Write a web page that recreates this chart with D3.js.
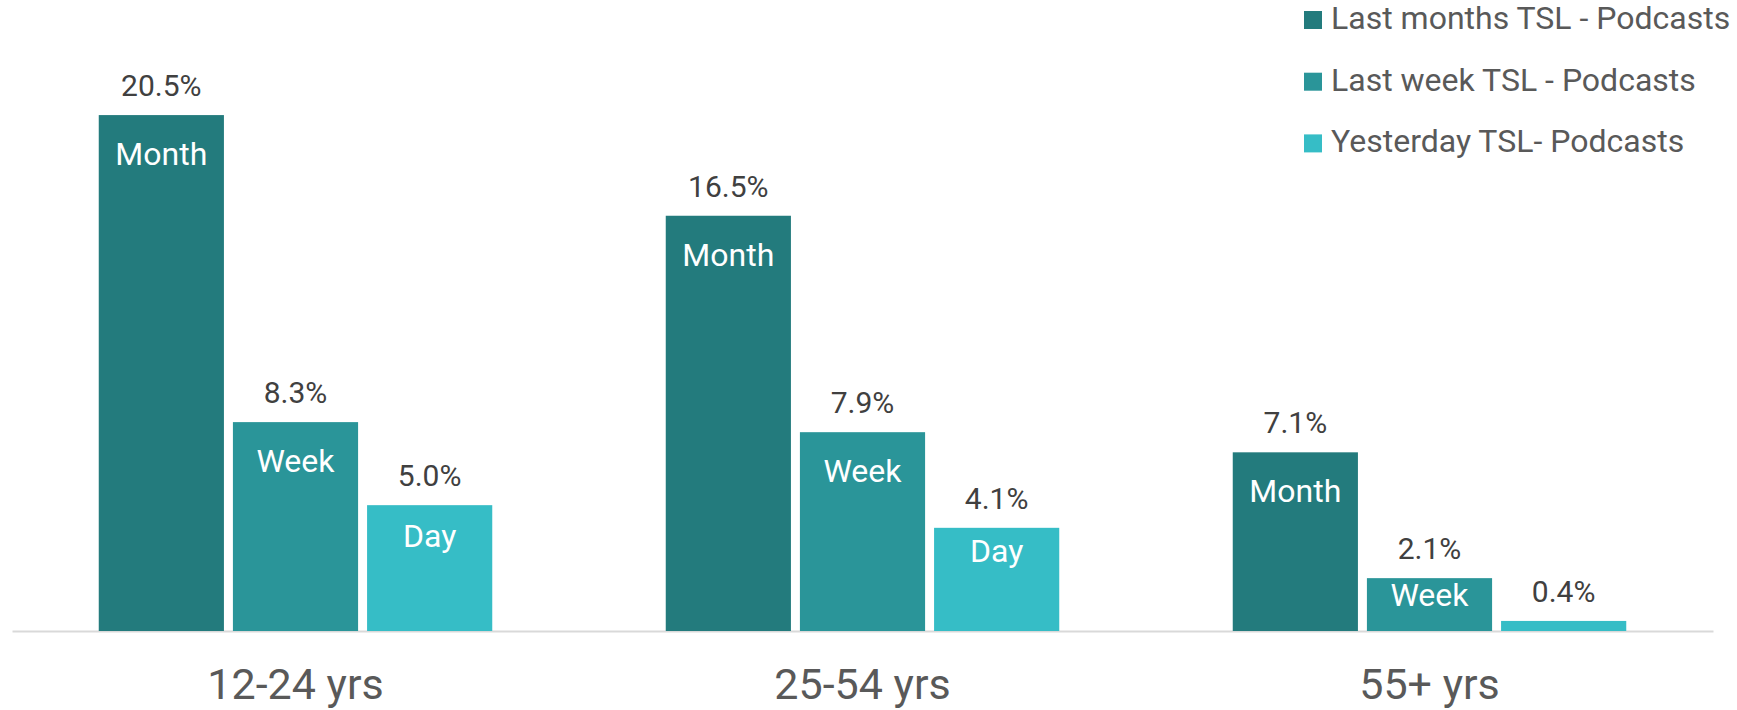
<!DOCTYPE html>
<html>
<head>
<meta charset="utf-8">
<script src="https://cdn.jsdelivr.net/npm/d3@7"></script>
<style>
  body { margin: 0; background: #fff; }
  text { font-family: Roboto, "Open Sans", sans-serif; }
</style>
</head>
<body>
<div id="chart"></div>
<script>
const categories = ['12-24 yrs', '25-54 yrs', '55+ yrs'];
const seriesNames = ['Last months TSL - Podcasts', 'Last week TSL - Podcasts', 'Yesterday TSL- Podcasts'];
const barTags = ['Month', 'Week', 'Day'];
const monthValues = [20.5, 16.5, 7.1];
const weekValues = [8.3, 7.9, 2.1];
const dayValues = [5.0, 4.1, 0.4];
const colors = ['#237b7d', '#2a9599', '#36bdc6'];

const width = 1737, height = 710;
const baseY = 631;

const svg = d3.select('#chart').append('svg')
    .attr('width', width)
    .attr('height', height);

const x0 = d3.scaleBand()
    .domain(categories)
    .range([12, 1713])
    .paddingInner(0.306)
    .paddingOuter(0.153);

const x1 = d3.scaleBand()
    .domain(seriesNames)
    .range([0, x0.bandwidth()])
    .paddingInner(0.067);

const y = d3.scaleLinear().domain([0, 24]).range([baseY, 27]);

const allSeries = [monthValues, weekValues, dayValues];
const rows = categories.map((c, i) => ({
    key: c,
    values: seriesNames.map((s, j) => ({ name: s, tag: barTags[j], value: allSeries[j][i], color: colors[j] }))
}));

// axis line + category labels
const xAxis = d3.axisBottom(x0).tickSize(0).tickPadding(0);
const gx = svg.append('g')
    .attr('transform', 'translate(0,' + baseY + ')')
    .call(xAxis);
gx.select('.domain').attr('stroke', '#d9d9d9').attr('stroke-width', 2);
gx.selectAll('.tick text')
    .attr('dy', null)
    .attr('y', 68)
    .attr('font-size', '43px')
    .attr('fill', '#595959')
    .style('font-family', 'Roboto, sans-serif');

const slice = svg.selectAll('.slice')
    .data(rows)
    .enter().append('g')
    .attr('class', 'slice')
    .attr('transform', d => 'translate(' + x0(d.key) + ',0)');

const bar = slice.selectAll('.gbar')
    .data(d => d.values)
    .enter().append('g')
    .attr('class', 'gbar');

bar.append('rect')
    .attr('x', d => x1(d.name))
    .attr('width', x1.bandwidth())
    .attr('y', d => y(d.value))
    .attr('height', d => baseY - y(d.value))
    .attr('fill', d => d.color);

// value labels above the bars
bar.append('text')
    .text(d => d.value.toFixed(1) + '%')
    .attr('x', d => x1(d.name) + x1.bandwidth() / 2)
    .attr('y', d => y(d.value) - 19)
    .attr('text-anchor', 'middle')
    .attr('font-size', '30px')
    .attr('fill', '#404040');

// tags inside bars (skipped where the bar is too short)
bar.filter(d => baseY - y(d.value) > 40)
    .append('text')
    .text(d => d.tag)
    .attr('x', d => x1(d.name) + x1.bandwidth() / 2)
    .attr('y', d => {
        const h = baseY - y(d.value);
        return y(d.value) + Math.min(50, Math.max(28, h * 0.33));
    })
    .attr('text-anchor', 'middle')
    .attr('font-size', '32px')
    .attr('fill', '#ffffff');

// legend
const legend = svg.append('g').attr('transform', 'translate(1304,11)');
const item = legend.selectAll('.item')
    .data(seriesNames)
    .enter().append('g')
    .attr('transform', (d, i) => 'translate(0,' + i * 61.7 + ')');
item.append('rect')
    .attr('width', 18)
    .attr('height', 18)
    .attr('fill', (d, i) => colors[i]);
item.append('text')
    .text(d => d)
    .attr('x', 27)
    .attr('y', 18)
    .attr('font-size', '32px')
    .attr('fill', '#595959');
</script>
</body>
</html>
